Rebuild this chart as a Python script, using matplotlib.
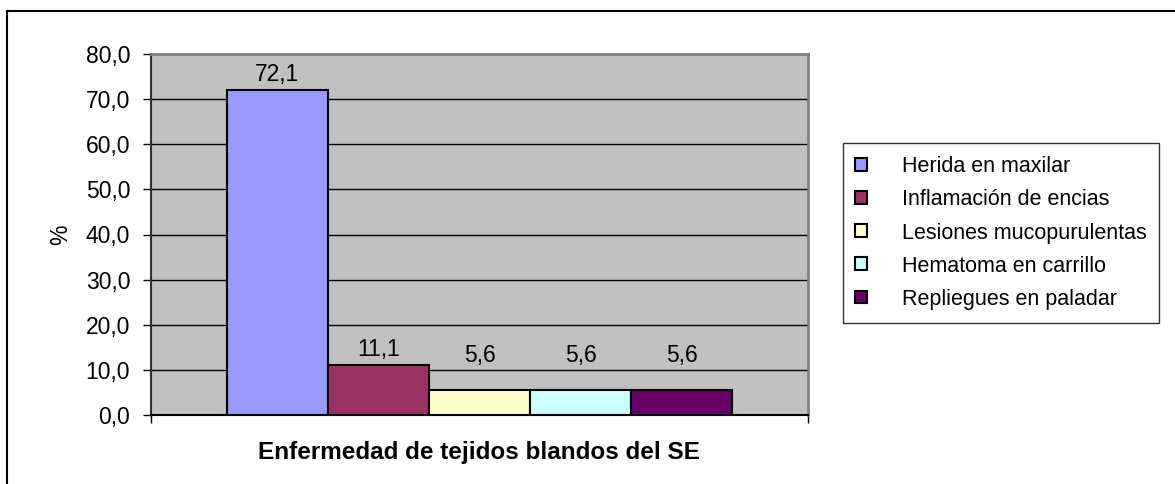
import matplotlib.pyplot as plt
import numpy as np
from matplotlib.patches import Patch
from matplotlib.lines import Line2D

categories = ["Herida en maxilar", "Inflamación de encias", "Lesiones mucopurulentas",
              "Hematoma en carrillo", "Repliegues en paladar"]
values = [72.1, 11.1, 5.6, 5.6, 5.6]
colors = ["#9999FF", "#993366", "#FFFFCC", "#CCFFFF", "#660066"]
yticks = [0, 10, 20, 30, 40, 50, 60, 70, 80]

plt.rcParams['font.family'] = ['Liberation Sans', 'DejaVu Sans']

fig = plt.figure(figsize=(11.75, 4.84), dpi=100)
ax = fig.add_axes([151/1175, 69/484, 657/1175, 361/484])
ax.set_facecolor("#C0C0C0")

x = np.arange(len(values))
ax.bar(x, values, width=1.0, color=colors, edgecolor="black", linewidth=1.5, zorder=3)

# value labels (small bars get lifted like in the original)
label_y = np.maximum(np.array(values) + 3.4, 13.2)
for xi, v, ly in zip(x, values, label_y):
    ax.text(xi, ly, f"{v:.1f}".replace(".", ","), ha="center", va="center", fontsize=16.5, zorder=4)

ax.set_ylim(0, 80)
ax.set_xlim(-0.5 - 0.752, len(values) - 0.5 + 0.752)
ax.set_yticks(yticks)
ax.set_yticklabels([f"{t:.1f}".replace(".", ",") for t in yticks], fontsize=16.5)
for t in yticks[1:-1]:
    ax.axhline(t, color="black", lw=1, zorder=1)

ax.set_xticks(ax.get_xlim())
ax.set_xticklabels([])
ax.tick_params(axis="both", direction="out", length=6, width=1, color="black")
ax.tick_params(axis="y", pad=9)

ax.spines["left"].set_color("#333333")
ax.spines["left"].set_linewidth(1.5)
ax.spines["bottom"].set_color("black")
ax.spines["bottom"].set_linewidth(1.5)
ax.spines["top"].set_color("#808080")
ax.spines["top"].set_linewidth(2)
ax.spines["right"].set_color("#808080")
ax.spines["right"].set_linewidth(2)

ax.set_ylabel("%", fontsize=16.5, labelpad=10)
ax.set_xlabel("Enfermedad de tejidos blandos del SE", fontsize=17.5, fontweight="bold", labelpad=9)

handles = [Patch(facecolor=c, edgecolor="black", linewidth=1.5) for c in colors]
leg = fig.legend(handles, categories, loc="center", bbox_to_anchor=(1001/1175, 1 - 233/484),
                 fontsize=15.5, frameon=True, fancybox=False, edgecolor="black",
                 handlelength=0.55, handleheight=0.55, handletextpad=1.6,
                 labelspacing=0.56, borderpad=0.6, borderaxespad=0)
leg.get_frame().set_linewidth(1)

# outer chart border (left and top visible)
fig.add_artist(Line2D([7/1175, 7/1175], [0, 1 - 11/484], color="black", lw=1.5, transform=fig.transFigure))
fig.add_artist(Line2D([7/1175, 1], [1 - 11/484, 1 - 11/484], color="black", lw=1.5, transform=fig.transFigure))

fig.savefig("out.png", dpi=100)
